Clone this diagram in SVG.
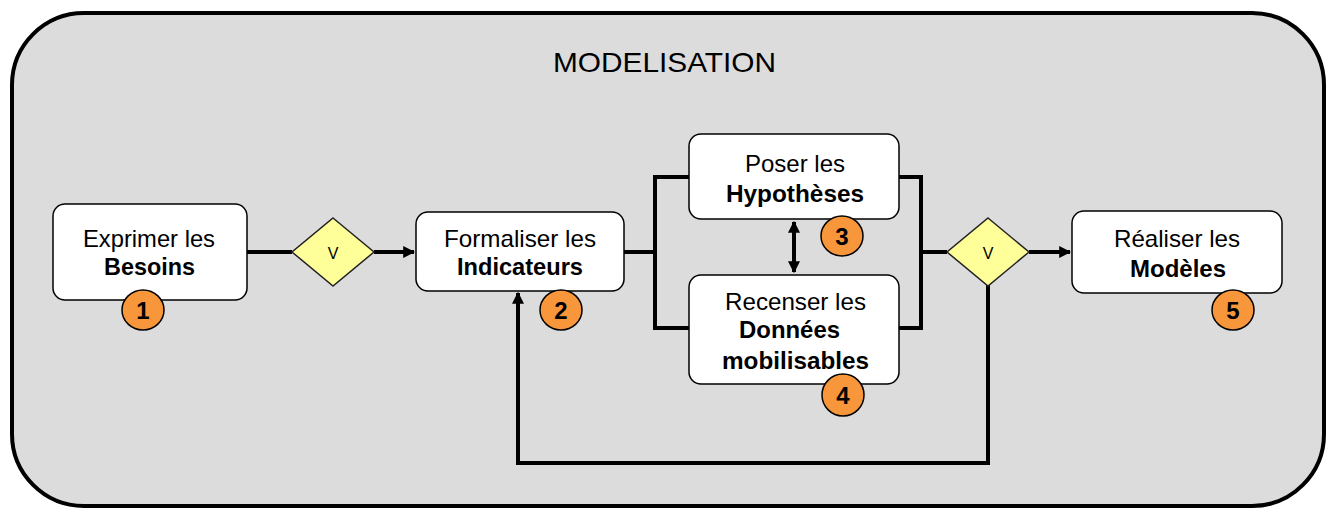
<svg xmlns="http://www.w3.org/2000/svg" width="1328" height="510" viewBox="0 0 1328 510">
<style>
.box{fill:#ffffff;stroke:#000;stroke-width:1.5}
.dia{fill:#ffff99;stroke:#222;stroke-width:1.5}
.num{fill:#f7963a;stroke:#000;stroke-width:1.5}
.t{font-family:"Liberation Sans",Arial,sans-serif;font-size:24px;fill:#000;text-anchor:start}
.b{font-family:"Liberation Sans",Arial,sans-serif;font-size:24px;font-weight:bold;fill:#000}
.n{font-family:"Liberation Sans",Arial,sans-serif;font-size:24px;font-weight:bold;fill:#000;text-anchor:middle}
.v{font-family:"Liberation Sans",Arial,sans-serif;font-size:16px;fill:#000;text-anchor:middle}
.c{fill:none;stroke:#000;stroke-width:4}
</style>
<defs>
<marker id="ah" viewBox="0 0 10 10" refX="9" refY="5" markerWidth="3" markerHeight="3" orient="auto-start-reverse" markerUnits="strokeWidth">
<path d="M0,0 L10,5 L0,10 z" fill="#000"/>
</marker>
</defs>
<g id="frame">
<rect x="12" y="13" width="1312" height="493" rx="72" ry="72" fill="#dcdcdc" stroke="#000" stroke-width="4"/>
<text x="553" y="72" font-family="Liberation Sans,Arial,sans-serif" font-size="28" textLength="223" lengthAdjust="spacingAndGlyphs">MODELISATION</text>
</g>
<g id="connectors">
<line class="c" x1="247" y1="252" x2="292" y2="252"/>
<line class="c" x1="374" y1="252" x2="414" y2="252" marker-end="url(#ah)"/>
<polyline class="c" points="624,252 655,252"/>
<polyline class="c" points="689,177 655,177 655,328 689,328"/>
<polyline class="c" points="899,177 921,177 921,328 899,328"/>
<line class="c" x1="921" y1="252" x2="947" y2="252"/>
<line class="c" x1="1029" y1="252" x2="1070" y2="252" marker-end="url(#ah)"/>
<polyline class="c" points="988,285 988,463 518,463 518,293" marker-end="url(#ah)"/>
<line class="c" x1="794" y1="222" x2="794" y2="272" marker-start="url(#ah)" marker-end="url(#ah)"/>
</g>
<g id="n1">
<rect class="box" x="53" y="204" width="194" height="96" rx="12"/>
<text class="t" x="83" y="247" textLength="132" lengthAdjust="spacingAndGlyphs">Exprimer les</text>
<text class="b" x="104" y="275" textLength="91" lengthAdjust="spacingAndGlyphs">Besoins</text>
<ellipse class="num" cx="143" cy="310" rx="21" ry="20"/>
<text class="n" x="143" y="319">1</text>
</g>
<g id="d1">
<polygon class="dia" points="333,218 374,252 333,286 292,252"/>
<text class="v" x="333" y="259">V</text>
</g>
<g id="n2">
<rect class="box" x="416" y="212" width="208" height="79" rx="12"/>
<text class="t" x="444" y="247" textLength="152" lengthAdjust="spacingAndGlyphs">Formaliser les</text>
<text class="b" x="457" y="275" textLength="126" lengthAdjust="spacingAndGlyphs">Indicateurs</text>
<ellipse class="num" cx="561" cy="310" rx="21" ry="20"/>
<text class="n" x="561" y="319">2</text>
</g>
<g id="n3">
<rect class="box" x="689" y="134" width="210" height="85" rx="12"/>
<text class="t" x="745" y="172" textLength="100" lengthAdjust="spacingAndGlyphs">Poser les</text>
<text class="b" x="726" y="202" textLength="138" lengthAdjust="spacingAndGlyphs">Hypothèses</text>
<ellipse class="num" cx="842" cy="236" rx="21" ry="20"/>
<text class="n" x="842" y="245">3</text>
</g>
<g id="n4">
<rect class="box" x="689" y="275" width="210" height="109" rx="12"/>
<text class="t" x="725" y="310" textLength="141" lengthAdjust="spacingAndGlyphs">Recenser les</text>
<text class="b" x="739" y="338" textLength="101" lengthAdjust="spacingAndGlyphs">Données</text>
<text class="b" x="722" y="369" textLength="147" lengthAdjust="spacingAndGlyphs">mobilisables</text>
<ellipse class="num" cx="843" cy="395" rx="21" ry="21"/>
<text class="n" x="843" y="404">4</text>
</g>
<g id="d2">
<polygon class="dia" points="988,218 1029,252 988,286 947,252"/>
<text class="v" x="988" y="259">V</text>
</g>
<g id="n5">
<rect class="box" x="1072" y="211" width="210" height="82" rx="12"/>
<text class="t" x="1114" y="247" textLength="126" lengthAdjust="spacingAndGlyphs">Réaliser les</text>
<text class="b" x="1130" y="277" textLength="96" lengthAdjust="spacingAndGlyphs">Modèles</text>
<ellipse class="num" cx="1233" cy="310" rx="21" ry="20"/>
<text class="n" x="1233" y="319">5</text>
</g>
</svg>
